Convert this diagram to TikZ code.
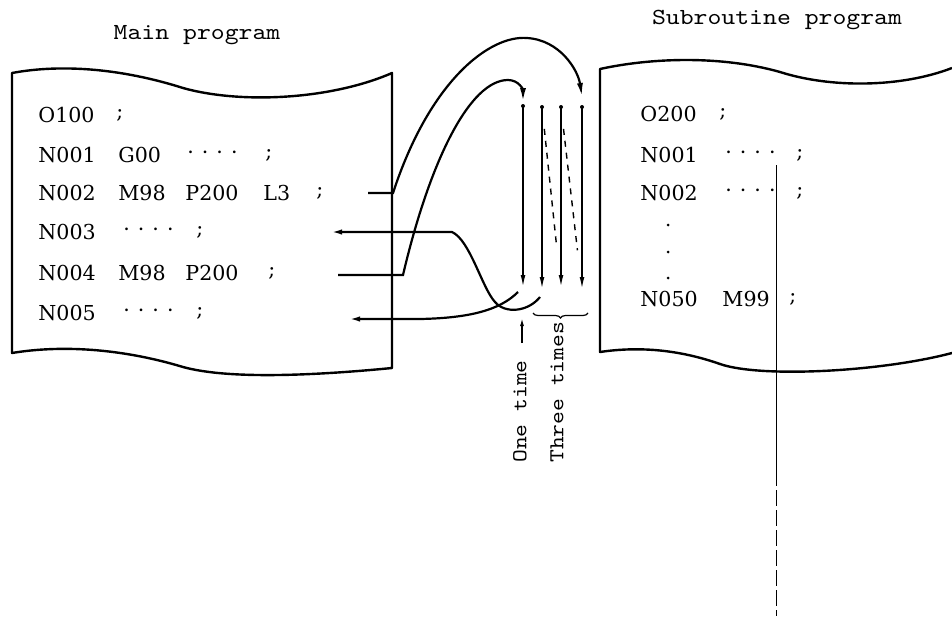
\documentclass[tikz,border=0pt]{standalone}
\usepackage{fontspec}
\newfontfamily\codefont{DejaVu Serif}
\newfontfamily\labfont[FakeStretch=1.15]{lmmono10-regular.otf}
\usetikzlibrary{arrows.meta,decorations.pathreplacing}
\newcommand\fourdots{·\hspace{4pt}·\hspace{4pt}·\hspace{4pt}·}
\begin{document}
\begin{tikzpicture}[x=0.5pt,y=-0.5pt,
  code/.style={font=\codefont\fontsize{10.3}{12}\selectfont, anchor=west, inner sep=0pt},
  title/.style={font=\labfont\fontsize{11.5}{13}\selectfont, inner sep=0pt},
  vlab/.style={font=\labfont\fontsize{10.6}{12}\selectfont, inner sep=0pt, rotate=90, anchor=west},
  frame/.style={line width=1.2pt, line join=round},
  flow/.style={line width=1.1pt, -{Latex[length=7pt,width=3pt]}},
  back/.style={line width=1.1pt, -{Latex[length=6pt,width=2.6pt]}},
  vline/.style={line width=0.9pt, -{Latex[length=6.5pt,width=2.4pt]}},
  loopdash/.style={line width=0.7pt, dash pattern=on 3pt off 3pt}]
\path[use as bounding box] (0,0) rectangle (952,616);

% titles
\node[title] (tmain) at (197,35) {Main program};
\node[title] (tsub) at (777,20) {Subroutine program};

% main program frame
\draw[frame] (12,353) -- (12,73)
  .. controls (60,64) and (120,68) .. (183,88)
  .. controls (240,104) and (330,100) .. (392,73)
  -- (392,368)
  .. controls (320,375) and (230,380) .. (183,367)
  .. controls (120,348) and (60,345) .. (12,353) -- cycle;

% subroutine frame
\draw[frame] (952,68) .. controls (900,88) and (830,88) .. (780,72)
  .. controls (720,55) and (650,58) .. (600,69)
  -- (600,352)
  .. controls (640,346) and (680,350) .. (720,364)
  .. controls (760,378) and (880,372) .. (952,353);

% main program text
\node[code] (mO) at (38,115) {O100};
\node[code] (mOs) at (116,115) {;};
\node[code] (m1) at (38,155) {N001};
\node[code] (m1a) at (118,155) {G00};
\node[code] (m1b) at (187,155) {\fourdots};
\node[code] (m1s) at (265,155) {;};
\node[code] (m2) at (38,193) {N002};
\node[code] (m2a) at (118,193) {M98};
\node[code] (m2b) at (185,193) {P200};
\node[code] (m2c) at (263,193) {L3};
\node[code] (m2s) at (316,193) {;};
\node[code] (m3) at (38,232) {N003};
\node[code] (m3b) at (123,232) {\fourdots};
\node[code] (m3s) at (196,232) {;};
\node[code] (m4) at (38,273) {N004};
\node[code] (m4a) at (118,273) {M98};
\node[code] (m4b) at (185,273) {P200};
\node[code] (m4s) at (268,273) {;};
\node[code] (m5) at (38,313) {N005};
\node[code] (m5b) at (123,313) {\fourdots};
\node[code] (m5s) at (196,313) {;};

% subroutine text
\node[code] (sO) at (640,114) {O200};
\node[code] (sOs) at (719,114) {;};
\node[code] (s1) at (640,155) {N001};
\node[code] (s1b) at (725,155) {\fourdots};
\node[code] (s1s) at (796,155) {;};
\node[code] (s2) at (640,193) {N002};
\node[code] (s2b) at (725,193) {\fourdots};
\node[code] (s2s) at (796,193) {;};
\fill (668,225) circle (1.5);
\fill (668,252) circle (1.5);
\fill (668,278) circle (1.5);
\node[code] (s50) at (640,299) {N050};
\node[code] (s50a) at (722,299) {M99};
\node[code] (s50s) at (789,299) {;};

% thin vertical line on subroutine
\coordinate (vt) at (776,165);
\coordinate (vm) at (776,470);
\coordinate (vb) at (776,616);
\draw[line width=0.5pt] (vt) -- (vm);
\draw[line width=0.5pt, dash pattern=on 8pt off 2pt] (vm) -- (vb);

% execution columns
\coordinate (l1t) at (523,106); \coordinate (l1b) at (523,288);
\coordinate (l2t) at (542,107); \coordinate (l2b) at (542,290);
\coordinate (l3t) at (561,107); \coordinate (l3b) at (561,288);
\coordinate (l4t) at (582,107); \coordinate (l4b) at (582,290);
\foreach \c in {l1,l2,l3,l4}{
  \draw[vline] (\c t) -- (\c b);
  \fill (\c t) circle (2);
}
\draw[loopdash, shorten <=11pt, shorten >=20pt] (l2t) -- (l3b);
\draw[loopdash, shorten <=11pt, shorten >=20pt] (l3t) -- (l4b);

% calls
\coordinate (n2s) at (368,193); \coordinate (n2c) at (393,193);
\coordinate (tipA) at (582,97);
\draw[flow] (n2s) -- (n2c)
  .. controls (430,80) and (490,35) .. (527,38)
  .. controls (560,40) and (578,70) .. (tipA);

\coordinate (n4s) at (338,275); \coordinate (n4c) at (403,275);
\coordinate (tipB) at (523,102);
\draw[flow] (n4s) -- (n4c)
  .. controls (430,160) and (470,80) .. (508,80)
  .. controls (519,80) and (523,90) .. (tipB);

% returns
\coordinate (r3s) at (540,297); \coordinate (n3e) at (330,232);
\draw[back] (r3s) .. controls (528,312) and (505,314) .. (495,302)
  .. controls (482,288) and (470,240) .. (452,232) -- (n3e);

\coordinate (r5s) at (518,292); \coordinate (n5e) at (348,319);
\draw[back] (r5s) .. controls (500,310) and (470,318) .. (420,319) -- (n5e);

% labels
\coordinate (oa1) at (522,343); \coordinate (oa2) at (522,318);
\draw[line width=0.7pt, -{Latex[length=4pt,width=2pt]}] (oa1) -- (oa2);
\coordinate (br1) at (533,313); \coordinate (br2) at (588,313);
\draw[line width=0.6pt, decorate, decoration={brace,mirror,amplitude=2.5pt}] (br1) -- (br2);
\node[vlab] (one) at (520,463) {One time};
\node[vlab] (three) at (557,463) {Three times};
\end{tikzpicture}
\end{document}
